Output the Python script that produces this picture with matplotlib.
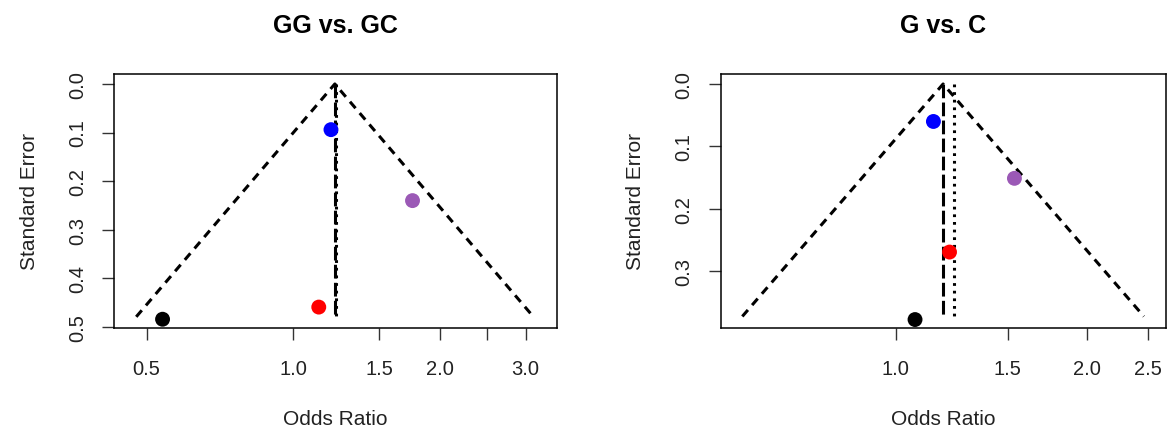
import numpy as np
import matplotlib
matplotlib.use("Agg")
import matplotlib.pyplot as plt

plt.rcParams['font.family'] = ['Liberation Sans', 'DejaVu Sans']

# GG vs. GC
gg_or = [1.195, 1.757, 1.128, 0.539]
gg_se = [0.094, 0.240, 0.459, 0.484]
gg_est = 1.217        # summary estimate (dashed line, funnel apex)
gg_est2 = 1.224       # second estimate (dotted line)
gg_se_max = 0.479
gg_xticks = [0.5, 1.0, 1.5, 2.0, 2.5, 3.0]
gg_xlabels = ["0.5", "1.0", "1.5", "2.0", "", "3.0"]
gg_yticks = [0.0, 0.1, 0.2, 0.3, 0.4, 0.5]

# G vs. C
g_or = [1.146, 1.538, 1.215, 1.072]
g_se = [0.060, 0.151, 0.269, 0.377]
g_est = 1.187
g_est2 = 1.237
g_se_max = 0.372
g_xticks = [1.0, 1.5, 2.0, 2.5]
g_xlabels = ["1.0", "1.5", "2.0", "2.5"]
g_yticks = [0.0, 0.1, 0.2, 0.3]

point_colors = ["blue", "#9B59B6", "red", "black"]


def funnel(ax, title, ors, ses, est, est2, se_max, xticks, xlabels, yticks, xlim, ylim):
    ax.set_xscale('log')
    # funnel lines on log scale
    lo = np.exp(np.log(est) - 1.96 * se_max)
    hi = np.exp(np.log(est) + 1.96 * se_max)
    ax.plot([lo, est, hi], [se_max, 0, se_max], color='black', lw=2.2,
            dashes=(2.8, 2.1))
    ax.plot([est, est], [0, se_max], color='black', lw=2.2, dashes=(4.5, 1.4))
    ax.plot([est2, est2], [0, se_max], color='black', lw=2.2, dashes=(0.9, 1.6))
    ax.scatter(ors, ses, s=115, c=point_colors, zorder=3, linewidths=0)

    ax.set_xlim(*xlim)
    ax.set_ylim(*ylim)
    ax.set_xticks(xticks)
    ax.set_xticklabels(xlabels)
    ax.xaxis.set_minor_locator(matplotlib.ticker.NullLocator())
    ax.set_yticks(yticks)
    ax.set_yticklabels([f"{v:.1f}" for v in yticks])
    ax.tick_params(axis='both', length=8.5, width=1, labelsize=14.5, color='#333333',
                   labelcolor='#222222')
    ax.tick_params(axis='x', pad=14)
    ax.tick_params(axis='y', pad=11, labelrotation=90)
    for lab in ax.get_yticklabels():
        lab.set_va('center')
    for sp in ax.spines.values():
        sp.set_linewidth(1.1)
    ax.set_xlabel("Odds Ratio", fontsize=15, labelpad=22, color='#222222')
    ax.set_ylabel("Standard Error", fontsize=15, labelpad=21, color='#222222')
    ax.set_title(title, fontsize=18, fontweight='bold', pad=30)


fig = plt.figure(figsize=(11.68, 4.39), dpi=100)
ax1 = fig.add_axes([0.0980, 0.2506, 0.3788, 0.5786])
ax2 = fig.add_axes([0.6169, 0.2506, 0.3814, 0.5786])

funnel(ax1, "GG vs. GC", gg_or, gg_se, gg_est, gg_est2, gg_se_max,
       gg_xticks, gg_xlabels, gg_yticks, (0.4294, 3.477), (0.502, -0.0205))
funnel(ax2, "G vs. C", g_or, g_se, g_est, g_est2, g_se_max,
       g_xticks, g_xlabels, g_yticks, (0.529, 2.667), (0.3905, -0.016))

fig.savefig("out.png", dpi=100)
